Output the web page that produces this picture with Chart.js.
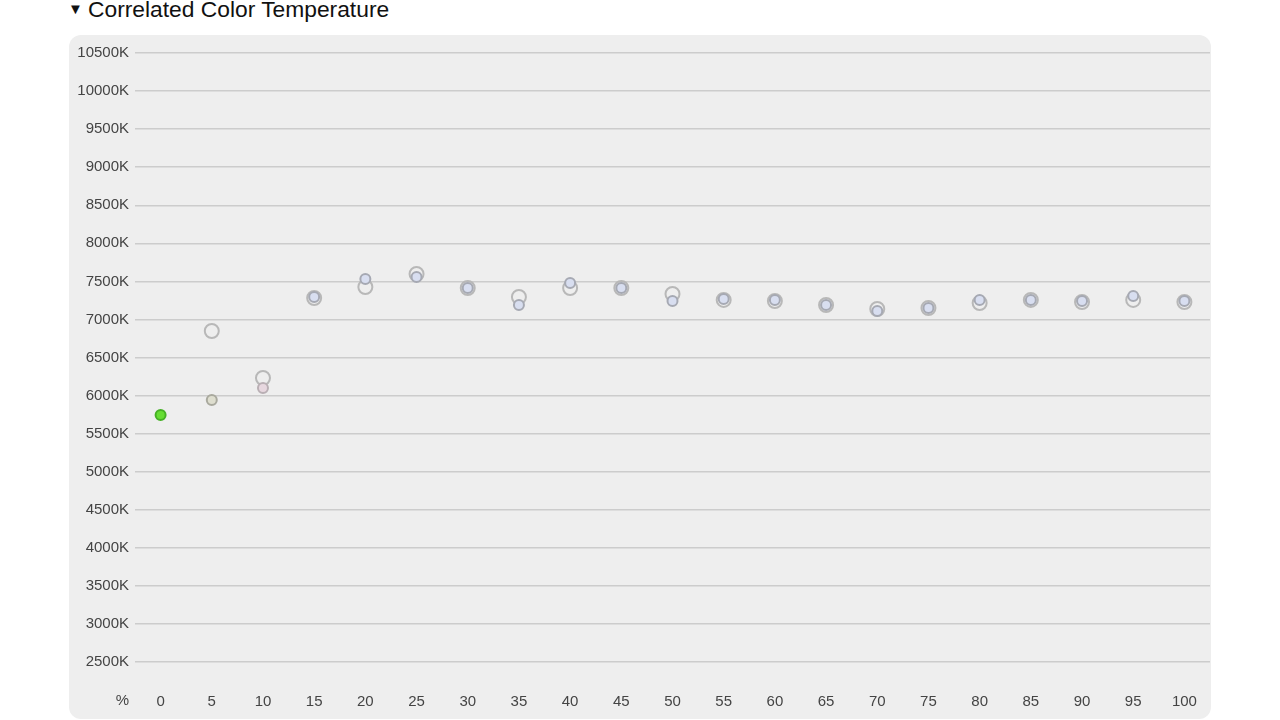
<!DOCTYPE html>
<html>
<head>
<meta charset="utf-8">
<script src="https://cdn.jsdelivr.net/npm/chart.js@4.4.1/dist/chart.umd.min.js"></script>
<style>
    body { margin: 0; background: #fff; width: 1280px; height: 720px; overflow: hidden; position: relative;
           font-family: "Liberation Sans", Arial, sans-serif; }
    .title { position: absolute; left: 68px; top: -4px; font-size: 22.8px; line-height: 26px; color: #111; white-space: nowrap; }
    .title .arrow { font-size: 15px; display: inline-block; width: 20px; vertical-align: 3px; }
    .panel { position: absolute; left: 69px; top: 35px; width: 1142px; height: 684px;
             background: #eeeeee; border-radius: 12px; }
    #cct-chart { position: absolute; left: 0; top: 0; }
</style>
</head>
<body>
<div class="title"><span class="arrow">▼</span>Correlated Color Temperature</div>
<div class="panel"><canvas id="cct-chart" width="1142" height="684"></canvas></div>
<script>
// 横轴刻度 (%)
const percentTicks = [0, 5, 10, 15, 20, 25, 30, 35, 40, 45, 50, 55, 60, 65, 70, 75, 80, 85, 90, 95, 100];
// 纵轴刻度 (K)
const kelvinTicks = [2500, 3000, 3500, 4000, 4500, 5000, 5500, 6000, 6500, 7000, 7500, 8000, 8500, 9000, 9500, 10000, 10500];

// 实心小点
const cctInner = [5745, 5942, 6100, 7295, 7531, 7558, 7413, 7190, 7479, 7413, 7242, 7269, 7256, 7190, 7111, 7150, 7256, 7256, 7242, 7308, 7242];
// 空心大圈
const cctOuter = [null, 6848, 6231, 7282, 7426, 7597, 7413, 7295, 7413, 7413, 7334, 7256, 7242, 7190, 7137, 7150, 7216, 7256, 7229, 7256, 7229];

// 点的颜色
const innerFill = percentTicks.map((p, i) => i === 0 ? '#66dd33' : i === 1 ? '#dedecf' : i === 2 ? '#e7d7df' : '#d8def0');
const innerBorder = percentTicks.map((p, i) => i === 0 ? '#45b025' : i === 1 ? '#a9a99e' : i === 2 ? '#b9afb4' : '#a6a9b3');

const toPoints = arr => percentTicks.map((x, i) => ({ x: x, y: arr[i] }));

const tickFont = { family: '"Liberation Sans", Arial, sans-serif', size: 15 };

// "%" 标签
const percentLabel = {
    id: 'percentLabel',
    afterDraw(chart) {
        const ctx = chart.ctx;
        const xs = chart.scales.x;
        ctx.save();
        ctx.font = '15px "Liberation Sans", Arial, sans-serif';
        ctx.fillStyle = '#444';
        ctx.textAlign = 'right';
        ctx.textBaseline = 'middle';
        ctx.fillText('%', chart.chartArea.left - 6, xs.top + 38.5);
        ctx.restore();
    }
};

window.cctChart = new Chart(document.getElementById('cct-chart'), {
    type: 'scatter',
    data: {
        datasets: [
            {
                label: 'inner',
                data: toPoints(cctInner),
                pointRadius: 5,
                pointBorderWidth: 2,
                pointBackgroundColor: innerFill,
                pointBorderColor: innerBorder
            },
            {
                label: 'outer',
                data: toPoints(cctOuter),
                pointRadius: 7,
                pointBorderWidth: 2,
                pointBackgroundColor: 'rgba(0,0,0,0)',
                pointBorderColor: '#b8b8b8'
            }
        ]
    },
    options: {
        responsive: false,
        animation: false,
        layout: { autoPadding: false, padding: { top: 18, right: 1, left: 0, bottom: 0 } },
        plugins: {
            legend: { display: false },
            tooltip: { enabled: false }
        },
        scales: {
            x: {
                type: 'linear',
                min: -2.5,
                max: 102.5,
                afterBuildTicks: scale => { scale.ticks = percentTicks.map(v => ({ value: v })); },
                afterFit: scale => { scale.height = 57; scale.paddingLeft = 0; scale.paddingRight = 0; },
                grid: { display: false, drawTicks: false },
                border: { display: false },
                ticks: {
                    padding: 31,
                    color: '#444',
                    font: tickFont
                }
            },
            y: {
                min: 2500,
                max: 10500,
                afterBuildTicks: scale => { scale.ticks = kelvinTicks.map(v => ({ value: v })); },
                afterFit: scale => { scale.width = 66; scale.paddingTop = 0; scale.paddingBottom = 0; },
                grid: { color: '#cccccc', lineWidth: 1.5, drawTicks: false },
                border: { display: false },
                ticks: {
                    padding: 6,
                    color: '#444',
                    font: tickFont,
                    callback: v => v + 'K'
                }
            }
        }
    },
    plugins: [percentLabel]
});
</script>
</body>
</html>
